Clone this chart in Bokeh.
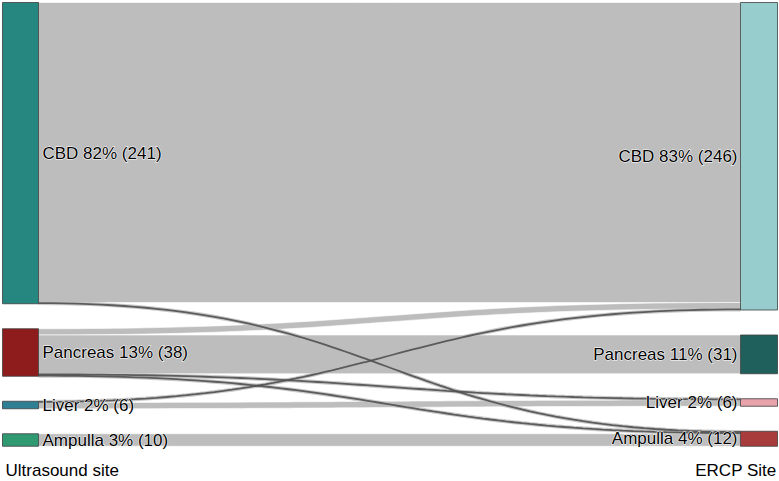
import numpy as np
from bokeh.plotting import figure
from bokeh.models import Range1d, ColumnDataSource
from bokeh.core.properties import value
from bokeh.embed import file_html
from bokeh.resources import INLINE

# ---------------- data ----------------
node_names = ["CBD", "Pancreas", "Liver", "Ampulla"]
left_values = [241, 38, 6, 10]      # Ultrasound site
right_values = [246, 31, 6, 12]     # ERCP Site
left_title = "Ultrasound site"
right_title = "ERCP Site"

flow_src = ["CBD", "CBD", "Pancreas", "Pancreas", "Pancreas", "Pancreas", "Liver", "Liver", "Ampulla"]
flow_tgt = ["CBD", "Ampulla", "CBD", "Pancreas", "Liver", "Ampulla", "CBD", "Liver", "Ampulla"]
flow_val = [240, 1, 5, 31, 1, 1, 1, 5, 10]

left_colors = ["#268680", "#8e1c1c", "#2e7f93", "#2f9a72"]
right_colors = ["#97cdcd", "#1f5f5c", "#e8a3aa", "#a83c3c"]

# ---------------- layout ----------------
GAP = 20.0            # gap between nodes (in count units)
LX0, LX1 = 2, 38      # left node column
RX0, RX1 = 740, 777   # right node column


def stack(vals):
    tops, y = [], 0.0
    for v in vals:
        tops.append(y)
        y += v + GAP
    return tops

left_tops = stack(left_values)
right_tops = stack(right_values)
total = sum(left_values) + GAP * (len(node_names) - 1)

p = figure(width=779, height=481, output_backend="svg", toolbar_location=None,
           x_range=Range1d(0, 779), y_range=Range1d(383.2, -1.6),
           x_axis_location=None, y_axis_location=None, min_border=0)
p.grid.visible = False
p.outline_line_color = None
p.background_fill_color = "white"
p.border_fill_color = "white"

# flows: order outgoing by target, incoming by source
idx = {n: i for i, n in enumerate(node_names)}
order_out = sorted(range(len(flow_val)), key=lambda k: (idx[flow_src[k]], idx[flow_tgt[k]]))
order_in = sorted(range(len(flow_val)), key=lambda k: (idx[flow_tgt[k]], idx[flow_src[k]]))
src_off = {n: left_tops[idx[n]] for n in node_names}
tgt_off = {n: right_tops[idx[n]] for n in node_names}
y0s, y1s = {}, {}
for k in order_out:
    y0s[k] = src_off[flow_src[k]]
    src_off[flow_src[k]] += flow_val[k]
for k in order_in:
    y1s[k] = tgt_off[flow_tgt[k]]
    tgt_off[flow_tgt[k]] += flow_val[k]

t = np.linspace(0, 1, 80)
xm = (LX1 + RX0) / 2.0
bx = (1 - t) ** 3 * LX1 + 3 * (1 - t) ** 2 * t * xm + 3 * (1 - t) * t ** 2 * xm + t ** 3 * RX0
by = 3 * t ** 2 - 2 * t ** 3

band_xs, band_ys, thin_xs, thin_ys = [], [], [], []
for k in range(len(flow_val)):
    v = flow_val[k]
    top = y0s[k] + (y1s[k] - y0s[k]) * by
    bot = top + v
    band_xs.append(list(bx) + list(bx[::-1]))
    band_ys.append(list(top) + list(bot[::-1]))
    if v <= 1:
        thin_xs.append(list(bx))
        thin_ys.append(list(top + v / 2.0))

big = [i for i in range(len(flow_val)) if flow_val[i] > 1]
p.patches([band_xs[i] for i in big], [band_ys[i] for i in big],
          fill_color="#bdbdbd", fill_alpha=1.0, line_color="white", line_width=1, line_alpha=0.6)
p.multi_line(thin_xs, thin_ys, line_color="#bdbdbd", line_width=4, line_alpha=0.8)
p.multi_line(thin_xs, thin_ys, line_color="#505050", line_width=1.8, line_alpha=0.9)

# nodes
p.quad(left=[LX0] * 4, right=[LX1] * 4, top=left_tops,
       bottom=[a + b for a, b in zip(left_tops, left_values)],
       fill_color=left_colors, line_color="#3f3f3f", line_width=1, line_alpha=0.8)
p.quad(left=[RX0] * 4, right=[RX1] * 4, top=right_tops,
       bottom=[a + b for a, b in zip(right_tops, right_values)],
       fill_color=right_colors, line_color="#3f3f3f", line_width=1, line_alpha=0.8)

lt = sum(left_values)
rt = sum(right_values)
left_labels = [f"{n} {round(100 * v / lt)}% ({v})" for n, v in zip(node_names, left_values)]
right_labels = [f"{n} {int(100 * v / rt + 0.5)}% ({v})" for n, v in zip(node_names, right_values)]

font = value("Liberation Sans")
lsrc = ColumnDataSource(dict(x=[LX1 + 4] * 4, y=[a + b / 2 for a, b in zip(left_tops, left_values)], t=left_labels))
rsrc = ColumnDataSource(dict(x=[RX0 - 3] * 4, y=[a + b / 2 for a, b in zip(right_tops, right_values)], t=right_labels))
common = dict(text="t", text_font=font, text_font_size="17px", text_baseline="middle")
# white halo layer, then dark text on top
p.text(x="x", y="y", source=lsrc, text_align="left", text_color="white",
       text_outline_color="white", **common)
p.text(x="x", y="y", source=rsrc, text_align="right", text_color="white",
       text_outline_color="white", **common)
p.text(x="x", y="y", source=lsrc, text_align="left", text_color="#000000", **common)
p.text(x="x", y="y", source=rsrc, text_align="right", text_color="#000000", **common)

p.text(x=[LX0 + 3], y=[total + 19], text=[left_title], text_font=font, text_font_size="17px",
       text_baseline="middle", text_align="left", text_color="#000000")
p.text(x=[RX1 - 1], y=[total + 19], text=[right_title], text_font=font, text_font_size="17px",
       text_baseline="middle", text_align="right", text_color="#000000")

open("out.html", "w").write(file_html(p, INLINE))
